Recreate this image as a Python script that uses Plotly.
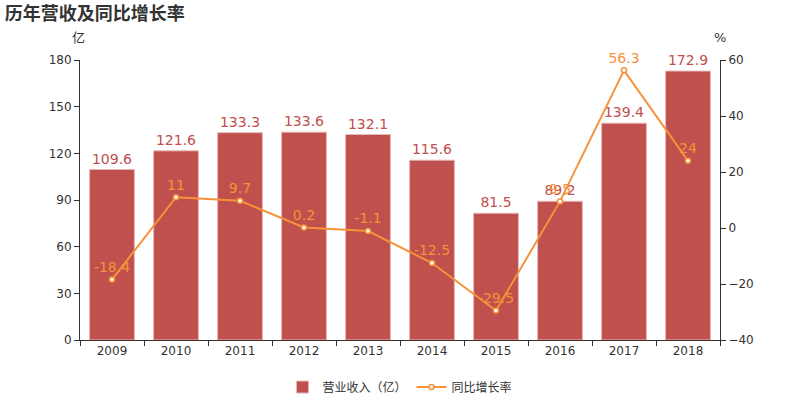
import plotly.graph_objects as go

years = ["2009", "2010", "2011", "2012", "2013", "2014", "2015", "2016", "2017", "2018"]
revenue = [109.6, 121.6, 133.3, 133.6, 132.1, 115.6, 81.5, 89.2, 139.4, 172.9]
growth = [-18.4, 11, 9.7, 0.2, -1.1, -12.5, -29.5, 9.5, 56.3, 24]

bar_color = "#c0504d"
line_color = "#f7923a"
font_fam = "DejaVu Sans, Noto Sans CJK SC, sans-serif"

fig = go.Figure()
fig.add_trace(go.Bar(
    x=years, y=revenue, name="营业收入（亿）",
    marker=dict(color=bar_color, line=dict(color="#e8b8b8", width=1)),
    width=0.7,
    text=[str(v) for v in revenue], textposition="outside",
    textfont=dict(color=bar_color, size=14),
    cliponaxis=False,
))
fig.add_trace(go.Scatter(
    x=years, y=growth, name="同比增长率", yaxis="y2",
    mode="lines+markers+text",
    line=dict(color=line_color, width=2),
    marker=dict(color="white", size=5, line=dict(color=line_color, width=1.5)),
    text=[("%g" % v) for v in growth], textposition="top center",
    textfont=dict(color=line_color, size=14),
    cliponaxis=False,
))

axis_common = dict(showline=True, linecolor="#333", linewidth=1, ticks="outside", ticklen=5,
                   tickcolor="#333", showgrid=False, zeroline=False, automargin=False,
                   tickfont=dict(size=12, color="#333"))

fig.update_layout(
    width=800, height=400,
    margin=dict(l=80, r=80, t=60, b=60, autoexpand=False),
    paper_bgcolor="white", plot_bgcolor="white",
    font=dict(family=font_fam, size=12, color="#333"),
    title=dict(text="<b>历年营收及同比增长率</b>", x=0.006, xanchor="left", y=0.965, yanchor="middle",
               automargin=False,
               font=dict(size=18, color="#333", family="Noto Sans CJK SC, sans-serif")),
    xaxis=dict(type="category", tickson="boundaries", range=[-0.5, len(years) - 0.5], **axis_common),
    yaxis=dict(range=[0, 180], dtick=30, **axis_common),
    yaxis2=dict(range=[-40, 60], dtick=20, overlaying="y", side="right", **axis_common),
    legend=dict(orientation="h", x=0.5, xanchor="center", y=-0.168, yanchor="middle",
                font=dict(size=12, color="#333")),
    showlegend=True,
)
fig.add_annotation(text="亿", xref="paper", yref="paper", x=-0.003, y=1.079, xanchor="center",
                   yanchor="middle", showarrow=False, font=dict(size=13, color="#333"))
fig.add_annotation(text="%", xref="paper", yref="paper", x=1.0, y=1.079, xanchor="center",
                   yanchor="middle", showarrow=False, font=dict(size=13, color="#333"))

fig.write_html("out.html", config={"displayModeBar": False},
               post_script="document.body.style.margin='0';document.body.style.overflow='hidden';")
